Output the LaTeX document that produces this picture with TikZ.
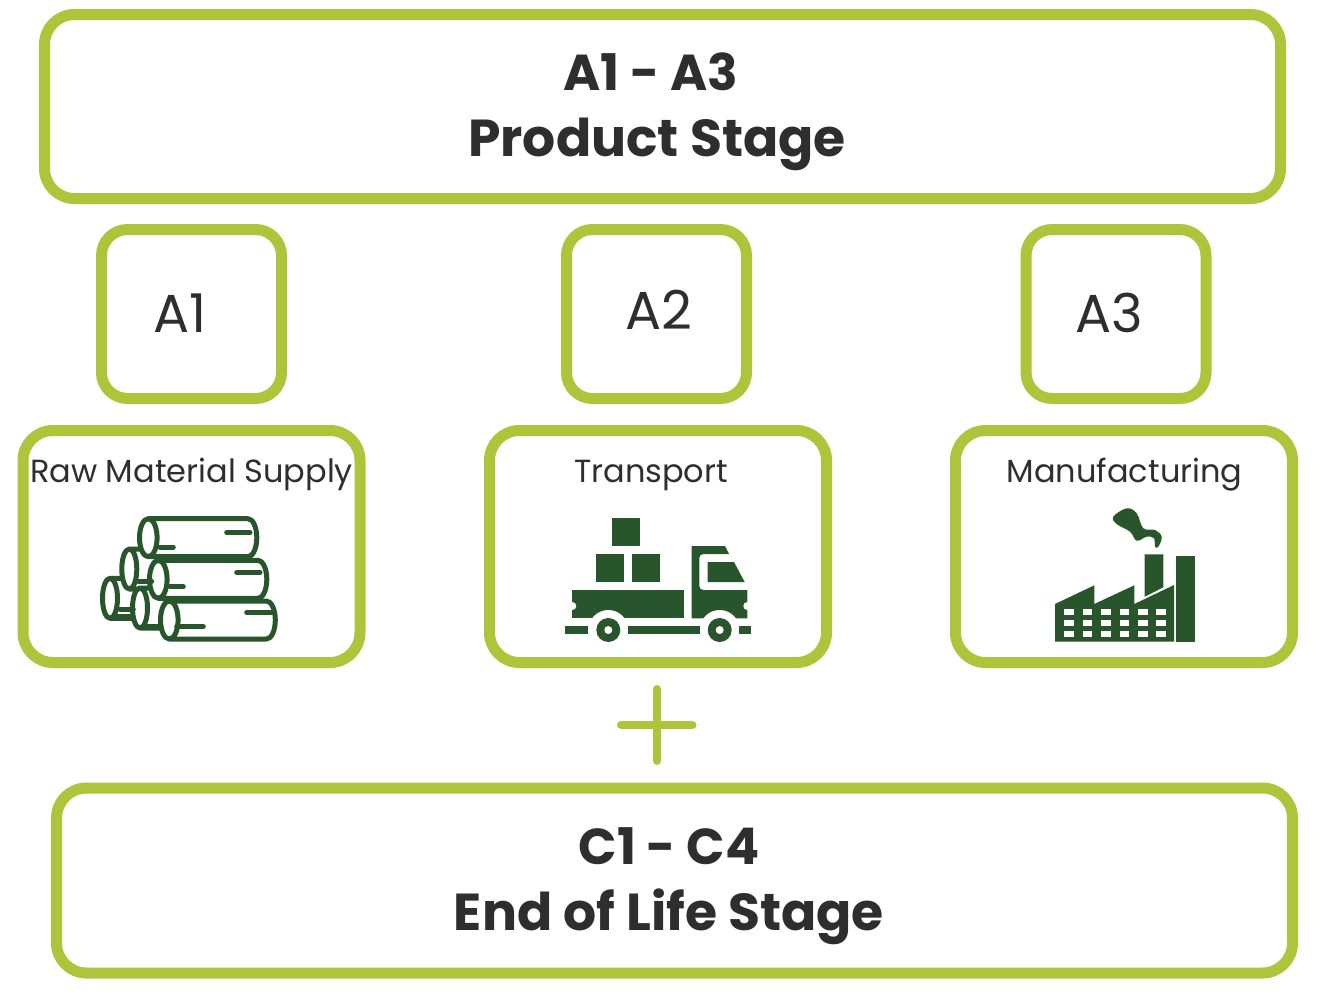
\documentclass[tikz,border=0pt]{standalone}
\usepackage{fontspec}
\setmainfont{Poppins}
\usepackage{xcolor}
\definecolor{stagegreen}{HTML}{AEC43A}
\definecolor{icongreen}{HTML}{28552B}
\definecolor{labelgray}{HTML}{2E2E2E}
\tikzset{
  stagebox/.style={draw=stagegreen,line width=11pt,rounded corners=30pt,fill=white},
  titletext/.style={text=labelgray,font=\bfseries\fontsize{52}{66}\selectfont,align=center,inner sep=0pt},
  codetext/.style={text=labelgray,font=\fontsize{53.5}{60}\selectfont,inner sep=0pt},
  nametext/.style={text=labelgray,font=\fontsize{32}{40}\selectfont,inner sep=0pt},
  logline/.style={draw=icongreen,line width=5pt,line cap=round,line join=round},
}
\begin{document}
\begin{tikzpicture}[x=1pt,y=-1pt]
  \useasboundingbox (0,0) rectangle (1325,1005);

  \node[stagebox,minimum width=1236pt,minimum height=184pt] (productbox) at (662.5,106.5) {};
  \node[titletext] (producttitle) at (657,112) {\hspace*{-12pt}{\fontsize{50.5}{66}\selectfont A1 - A3}\\Product Stage};

  \node[stagebox,minimum width=180pt,minimum height=169pt,rounded corners=26pt] (aonebox) at (191.5,314) {};
  \node[stagebox,minimum width=180pt,minimum height=169pt,rounded corners=26pt] (atwobox) at (656.5,314) {};
  \node[stagebox,minimum width=180pt,minimum height=169pt,rounded corners=26pt] (athreebox) at (1116,314) {};
  \node[codetext] (aonecode) at (180,313.5) {A1};
  \node[codetext] (atwocode) at (658.5,309.5) {A2};
  \node[codetext] (athreecode) at (1109,313) {A3};

  \node[stagebox,minimum width=337pt,minimum height=232pt] (rawbox) at (191.5,546.5) {};
  \node[stagebox,minimum width=337pt,minimum height=232pt] (transportbox) at (658,546.5) {};
  \node[stagebox,minimum width=337pt,minimum height=232pt] (factorybox) at (1124,546.5) {};
  \node[nametext] (rawname) at (191.5,474) {Raw Material Supply};
  \node[nametext] (transportname) at (651,475) {Transport};
  \node[nametext] (factoryname) at (1124.5,475) {Manufacturing};

  % logs
  \foreach \cx/\cy/\rx/\ry/\ex in {110/598.3/7.5/20/150, 129.3/569/7.5/20/165, 140/608/7.5/20/175,
      148.3/537.7/8.8/19/248, 158.3/579.3/8.8/19/258, 169.3/620/8.8/19/266.5}
    \path[logline,fill=white] (\cx,\cy-\ry) -- (\ex,\cy-\ry) arc[start angle=-90,end angle=90,x radius=\rx,y radius=\ry]
      -- (\cx,\cy+\ry) arc[start angle=90,end angle=270,x radius=\rx,y radius=\ry] -- cycle
      (\cx,\cy) ellipse[x radius=\rx,y radius=\ry];
  \foreach \ax/\bx/\ly in {226.7/250/532.7, 160/173.3/547, 236.7/260/572.3, 170/183.3/586.7,
      246.7/271/612.3, 176.7/203.3/626.7, 138.3/151.7/581, 120/133.3/609, 116.7/130/616.7, 143.3/160/626.7}
    \draw[logline] (\ax,\ly) -- (\bx,\ly);

  % truck
  \fill[icongreen] (612.3,518.3) rectangle (640,546);
  \fill[icongreen] (596.3,554.3) rectangle (624,582);
  \fill[icongreen] (632.3,554.3) rectangle (660,582);
  \fill[icongreen] (572.3,590) rectangle (684,618.3);
  \fill[icongreen] (691.7,618.3) -- (691.7,546) -- (725,546) -- (729,554) [rounded corners=4pt] -- (699.3,554) -- (699.3,590) [sharp corners] -- (747.3,590) -- (747.3,618.3) -- cycle;
  \fill[icongreen] (707.7,562) -- (734,562) -- (744.7,582) -- (707.7,582) -- cycle;
  \foreach \wx in {608.3,719.7} \fill[white] (\wx,630) circle[radius=20pt];
  \foreach \nx in {572.3,747.3} \fill[white] (\nx,606) circle[radius=4pt];
  \foreach \wx in {608.3,719.7} {
    \fill[icongreen] (\wx,630) circle[radius=12pt];
    \fill[white] (\wx,630) circle[radius=4pt];
  }
  \fill[icongreen] (564.7,626) rectangle (588.3,634);
  \fill[icongreen] (628.3,626) rectangle (700,634);
  \fill[icongreen] (739.3,626) rectangle (751.3,634);

  % factory
  \fill[icongreen] (1055,641.7) -- (1055,604) -- (1094.3,585.3) -- (1094.3,604) -- (1134.3,585.3) -- (1134.3,604) -- (1174,585) -- (1174,641.7) -- cycle;
  \fill[icongreen] (1144.7,554.3) -- (1163.3,554.3) -- (1163.3,587.3) -- (1144.7,596.7) -- cycle;
  \fill[icongreen] (1176,556) rectangle (1195,641.7);
  \foreach \wx in {0,...,5}
    \foreach \wy in {609.3,620.3,631}
      \fill[white] (1064.3+18.4*\wx,\wy) rectangle ++(9.6,5.7);
  \fill[icongreen] plot[smooth cycle,tension=0.6] coordinates {(1113.3,516.7) (1126.7,508.3) (1136.7,513.3) (1143.3,528.3) (1155,530) (1161.7,536.7) (1158.3,546.7) (1155,546.7) (1154,538.3) (1146.7,536.7) (1136.7,540.7) (1130,531.7) (1116.7,524)};

  % plus
  \draw[stagegreen,line width=8pt,line cap=round] (621,725) -- (692.5,725);
  \draw[stagegreen,line width=8pt,line cap=round] (657,689) -- (657,761);

  \node[stagebox,minimum width=1236pt,minimum height=185pt] (endbox) at (674.5,880.5) {};
  \node[titletext] (endtitle) at (669,886) {{\fontsize{50.5}{66}\selectfont C1 - C4}\\End of Life Stage};
\end{tikzpicture}
\end{document}
